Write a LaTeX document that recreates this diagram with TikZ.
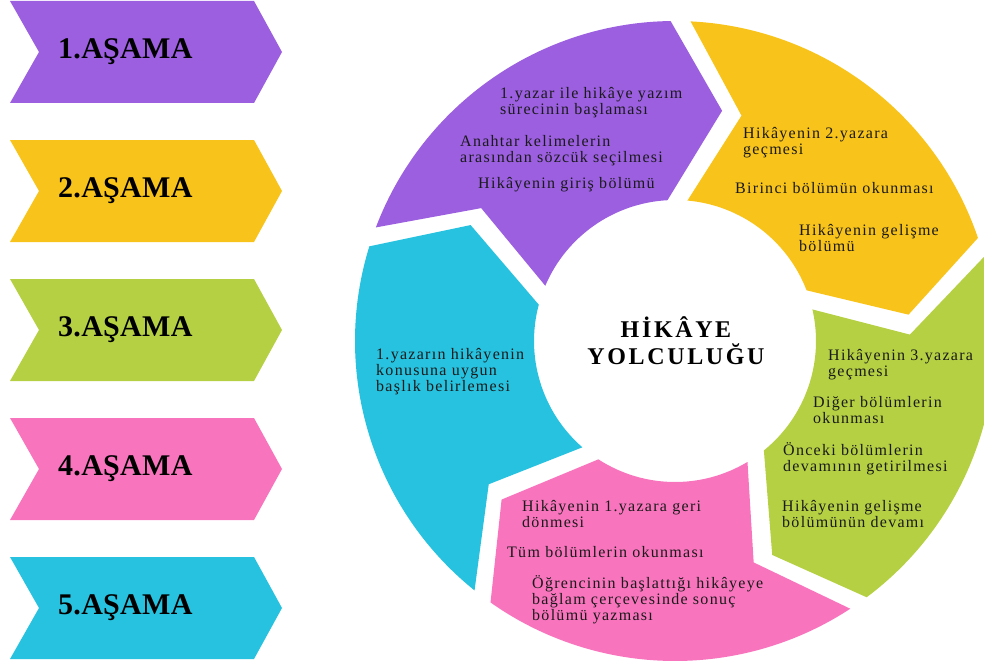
\documentclass[tikz,border=0pt]{standalone}
\usepackage{fontspec}
\setmainfont{Liberation Serif}
\newfontfamily\bodyfont[LetterSpace=8]{Liberation Serif}
\newfontfamily\headfont[LetterSpace=11]{Liberation Serif}
\newfontfamily\stagefont[LetterSpace=1]{Liberation Serif}
\definecolor{cpurple}{HTML}{9B5FE0}
\definecolor{cyellow}{HTML}{F8C31A}
\definecolor{cgreen}{HTML}{B5D143}
\definecolor{cpink}{HTML}{F875BE}
\definecolor{ccyan}{HTML}{27C2DF}
\definecolor{ctext}{HTML}{1A1A1A}
\begin{document}
\begin{tikzpicture}[x=1pt,y=-1pt,
  body/.style={inner sep=0pt, anchor=base west, align=left, text=ctext,
    font=\bodyfont\fontsize{16}{16}\selectfont},
  stage/.style={inner sep=0pt, anchor=base west, text=black,
    font=\stagefont\bfseries\fontsize{30}{30}\selectfont},
  title/.style={inner sep=0pt, anchor=base, align=center, text=black,
    font=\headfont\bfseries\fontsize{24}{27}\selectfont}]
\useasboundingbox (0,0) rectangle (984,666);
\clip (0,0) rectangle (984,666);
% stage chevrons
\foreach \i/\col in {0/cpurple,1/cyellow,2/cgreen,3/cpink,4/ccyan} {
  \pgfmathsetmacro\yt{1+139*\i}
  \fill[\col] (10,\yt) -- (254,\yt) -- (282,\yt+51) -- (254,\yt+102)
     -- (10,\yt+102) -- (39,\yt+51) -- cycle;
  \pgfmathtruncatemacro\n{\i+1}
  \node[stage] (s\n) at (58,\yt+57.5) {\n.AŞAMA};
}
% ring of circular arrows
\begin{scope}[shift={(675,341)}, yscale=-1]
  \def\R{320}\def\Rm{235}\def\r{141}
  \pgfmathsetmacro\dR{asin(10/\R)}
  \pgfmathsetmacro\dm{asin(10/\Rm)}
  \pgfmathsetmacro\dr{asin(10/\r)}
  \foreach \t/\col in {161/cpurple,89/cyellow,17/cgreen,-55/cpink,-127/ccyan} {
    \pgfmathsetmacro\l{\t-72}
    \fill[\col] ({\t-\dR}:\R) arc[start angle={\t-\dR}, end angle={\l+\dR}, radius=\R]
      -- ({\l-13+\dm}:\Rm) -- ({\l+\dr}:\r)
      arc[start angle={\l+\dr}, end angle={\t-\dr}, radius=\r]
      -- ({\t-13-\dm}:\Rm) -- cycle;
  }
\end{scope}
% centre title (anchor = baseline of last line)
\node[title] (title) at (676,364) {HİKÂYE\\YOLCULUĞU};
% purple
\node[body] (p1) at (500,114) {1.yazar ile hikâye yazım\\sürecinin başlaması};
\node[body] (p2) at (460,162) {Anahtar kelimelerin\\arasından sözcük seçilmesi};
\node[body] (p3) at (478,188) {Hikâyenin giriş bölümü};
% yellow
\node[body] (y1) at (743,154) {Hikâyenin 2.yazara\\geçmesi};
\node[body] (y2) at (735,193) {Birinci bölümün okunması};
\node[body] (y3) at (799,251) {Hikâyenin gelişme\\bölümü};
% green
\node[body] (g1) at (828,376) {Hikâyenin 3.yazara\\geçmesi};
\node[body] (g2) at (813,423) {Diğer bölümlerin\\okunması};
\node[body] (g3) at (783,471) {Önceki bölümlerin\\devamının getirilmesi};
\node[body] (g4) at (782,527) {Hikâyenin gelişme\\bölümünün devamı};
% pink
\node[body] (k1) at (522,527) {Hikâyenin 1.yazara geri\\dönmesi};
\node[body] (k2) at (507,557) {Tüm bölümlerin okunması};
\node[body] (k3) at (532,620) {Öğrencinin başlattığı hikâyeye\\bağlam çerçevesinde sonuç\\bölümü yazması};
% cyan
\node[body] (c1) at (376,391) {1.yazarın hikâyenin\\konusuna uygun\\başlık belirlemesi};
\end{tikzpicture}
\end{document}
